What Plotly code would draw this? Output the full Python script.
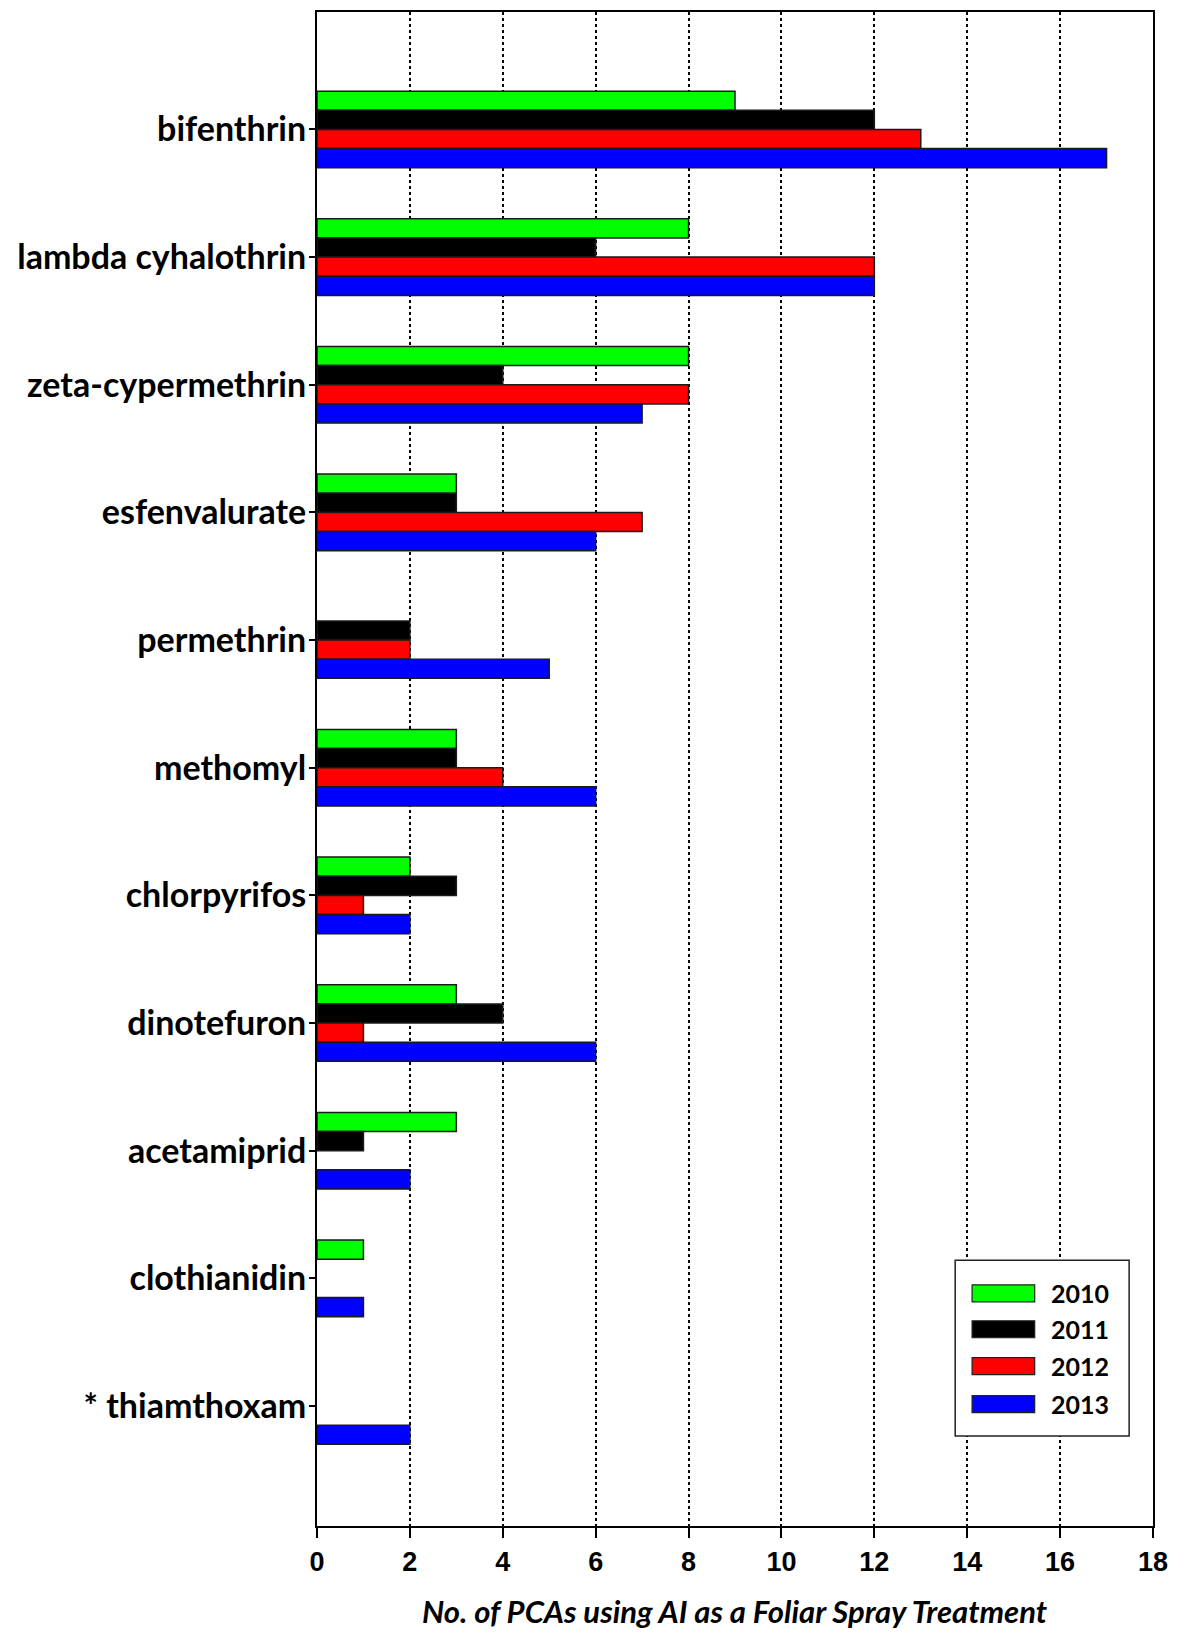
import plotly.graph_objects as go

categories = ["bifenthrin", "lambda cyhalothrin", "zeta-cypermethrin", "esfenvalurate",
              "permethrin", "methomyl", "chlorpyrifos", "dinotefuron", "acetamiprid",
              "clothianidin", "* thiamthoxam"]
years = ["2010", "2011", "2012", "2013"]
v2010 = [9, 8, 8, 3, None, 3, 2, 3, 3, 1, None]
v2011 = [12, 6, 4, 3, 2, 3, 3, 4, 1, None, None]
v2012 = [13, 12, 8, 7, 2, 4, 1, 1, None, None, None]
v2013 = [17, 12, 7, 6, 5, 6, 2, 6, 2, 1, 2]
colors = ["#00FF00", "#000000", "#FF0000", "#0000FF"]
x_ticks = [0, 2, 4, 6, 8, 10, 12, 14, 16, 18]
x_title = "No. of PCAs using AI as a Foliar Spray Treatment"

W, H = 1178, 1632
ml, mr, mt, mb = 317, 20, 10, 106
pw, ph = W - ml - mr, H - mt - mb

def px(x):
    return (x - ml) / pw

def py(y):
    return (H - mb - y) / ph

fig = go.Figure()
for name, vals, col in zip(years, [v2010, v2011, v2012, v2013], colors):
    fig.add_trace(go.Bar(
        y=categories, x=vals, name=name, orientation="h",
        marker=dict(color=col, line=dict(color="#1a1a1a", width=1.5)),
        showlegend=False,
    ))

label_font = dict(family="Lato, Open Sans, sans-serif", size=34, color="black", weight="bold")
num_font = dict(family="Liberation Sans Narrow, Liberation Sans, Arial", size=27, color="black", weight="bold")

fig.update_layout(
    width=W, height=H,
    margin=dict(l=ml, r=mr, t=mt, b=mb),
    paper_bgcolor="white", plot_bgcolor="white",
    barmode="group", bargap=0.4, bargroupgap=0,
    xaxis=dict(
        range=[0, 18], tickvals=x_ticks, ticktext=[str(t) for t in x_ticks],
        showgrid=True, gridcolor="black", gridwidth=2, griddash="dot",
        showline=True, linecolor="black", linewidth=2, mirror=True,
        ticks="outside", ticklen=10, tickwidth=1.5, tickcolor="black",
        tickfont=num_font, zeroline=False, ticklabelstandoff=1,
    ),
    yaxis=dict(
        type="category", categoryorder="array", categoryarray=categories,
        range=[10.94, -0.92],
        showline=True, linecolor="black", linewidth=2, mirror=True,
        ticks="outside", ticklen=6, tickwidth=1.5, tickcolor="black",
        tickfont=label_font, showgrid=False, ticklabelstandoff=-4,
    ),
)

fig.add_annotation(
    text="<b><i>" + x_title + "</i></b>", xref="paper", yref="paper",
    x=px(737), y=py(1611), showarrow=False, xanchor="center", yanchor="middle",
    font=dict(family="Lato, Open Sans, sans-serif", size=31, color="black"),
)

# legend box
fig.add_shape(type="rect", xref="paper", yref="paper",
              x0=px(959), x1=px(1134), y0=py(1260), y1=py(1436),
              line=dict(color="#222", width=1.5), fillcolor="white", layer="above")
rows = [1293, 1329, 1366, 1404]
for name, col, ry in zip(years, colors, rows):
    fig.add_shape(type="rect", xref="paper", yref="paper",
                  x0=px(976), x1=px(1039), y0=py(ry - 8.5), y1=py(ry + 8.5),
                  line=dict(color="#222", width=1.2), fillcolor=col, layer="above")
    fig.add_annotation(text="<b>" + name + "</b>", xref="paper", yref="paper",
                       x=px(1053), y=py(ry), showarrow=False, xanchor="left", yanchor="middle",
                       font=dict(family="Lato, Open Sans, sans-serif", size=25, color="black"))

fig.write_html("out.html")
